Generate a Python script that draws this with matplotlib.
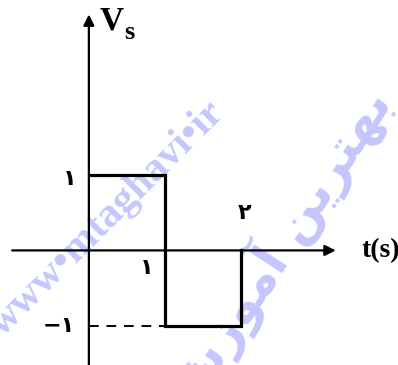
import matplotlib
matplotlib.use("Agg")
import matplotlib.pyplot as plt

# ---- data ----
wave_t = [0, 1, 1, 2, 2]
wave_v = [1, 1, -1, -1, 0]
dash_t = [0, 1]
dash_v = [-1, -1]
tick_labels = {"v_pos": "\u06F1", "t1": "\u06F1", "t2": "\u06F2", "v_neg": "\u2212\u06F1"}
x_label = "t(s)"
y_label_main = "V"
y_label_sub = "s"
watermark_url = "www\u2022mtaghavi\u2022ir"
watermark_fa = "\uFEB5\uFEAF\uFEEE\uFEE3\uFE81 \uFEE6\uFEF3\uFEAE\uFE98\uFEEC\uFE91"

fig = plt.figure(figsize=(3.98, 3.65), dpi=100)
ax = fig.add_axes([0, 0, 1, 1])
ax.set_xlim(-1.17, 4.07)
ax.set_ylim(-1.51, 3.30)
ax.axis("off")

wm_color = "#c6c6ff"
ax.text(1.80, 1.80, watermark_url, color=wm_color, fontsize=30, fontweight="bold",
        family=["Liberation Serif", "DejaVu Sans"], rotation=45, rotation_mode="anchor",
        ha="right", va="baseline", zorder=0)
ax.text(4.00, 1.95, watermark_fa, color=wm_color, fontsize=37, fontweight="bold",
        family=["DejaVu Sans"], rotation=57, rotation_mode="anchor",
        ha="right", va="baseline", zorder=0)

# axes with arrows
ax.annotate("", xy=(3.25, 0), xytext=(-1.01, 0),
            arrowprops=dict(arrowstyle="-|>", lw=1.6, color="black", mutation_scale=16,
                            shrinkA=0, shrinkB=0), zorder=2)
ax.annotate("", xy=(0, 3.11), xytext=(0, -1.6),
            arrowprops=dict(arrowstyle="-|>", lw=1.6, color="black", mutation_scale=16,
                            shrinkA=0, shrinkB=0), zorder=2)

# waveform
ax.plot(wave_t, wave_v, color="black", lw=2.3, solid_joinstyle="miter", zorder=3)
ax.plot(dash_t, dash_v, color="black", lw=1.4, ls=(0, (5, 4)), zorder=3)

serif = ["Liberation Serif", "DejaVu Sans"]
ax.text(0.145, 2.91, y_label_main, fontsize=24, fontweight="bold", family=serif,
        ha="left", va="baseline")
ax.text(0.46, 2.78, y_label_sub, fontsize=19, fontweight="bold", family=serif,
        ha="left", va="baseline")
ax.text(3.59, 0.0, x_label, fontsize=20, fontweight="bold", family=serif,
        ha="left", va="center")

fa = ["DejaVu Sans"]
ax.text(-0.25, 0.94, tick_labels["v_pos"], fontsize=16, fontweight="bold", family=fa,
        ha="center", va="center")
ax.text(0.76, -0.23, tick_labels["t1"], fontsize=16, fontweight="bold", family=fa,
        ha="center", va="center")
ax.text(2.05, 0.49, tick_labels["t2"], fontsize=16, fontweight="bold", family=fa,
        ha="center", va="center")
ax.text(-0.40, -0.99, tick_labels["v_neg"], fontsize=16, fontweight="bold", family=fa,
        ha="center", va="center")

fig.savefig("out.png", dpi=100)
